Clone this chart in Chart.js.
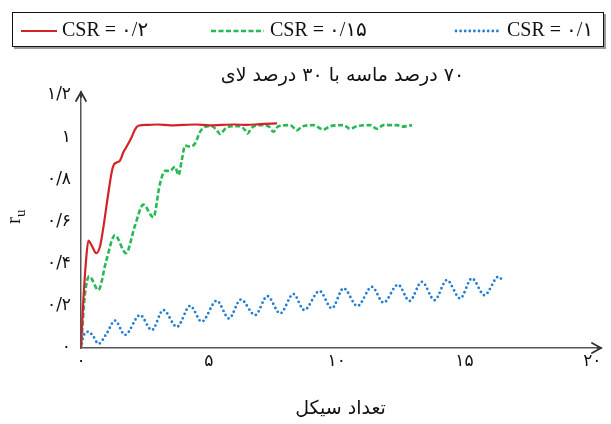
<!DOCTYPE html>
<html><head><meta charset="utf-8">
<script src="https://cdn.jsdelivr.net/npm/chart.js@4.4.0/dist/chart.umd.min.js"></script>
<style>html,body{margin:0;padding:0;background:#fff}</style>
</head><body>
<canvas id="c" width="611" height="424"></canvas>
<script>
const chartTitle = '۷۰ درصد ماسه با ۳۰ درصد لای';
const xAxisTitle = 'تعداد سیکل';
const seriesLabels = ['CSR = ۰/۲', 'CSR = ۰/۱۵', 'CSR = ۰/۱'];
const xTicks = [0, 5, 10, 15, 20];
const yTicks = [0, 0.2, 0.4, 0.6, 0.8, 1, 1.2];

const redCycles = [0, 0.08, 0.2, 0.29, 0.4, 0.6, 0.74, 0.86, 0.98, 1.1, 1.21, 1.29, 1.4, 1.53, 1.66, 1.76, 1.85, 1.98, 2.11, 2.24, 2.6, 3.0, 3.5, 4.0, 4.5, 5.0, 5.5, 6.0, 6.5, 7.0, 7.67];
const redRu =     [0, 0.2, 0.42, 0.51, 0.49, 0.45, 0.48, 0.56, 0.66, 0.76, 0.84, 0.87, 0.88, 0.89, 0.93, 0.95, 0.97, 1.0, 1.036, 1.054, 1.058, 1.06, 1.056, 1.058, 1.06, 1.056, 1.058, 1.06, 1.058, 1.062, 1.065];

const greenCycles = [0, 0.15, 0.325, 0.68, 0.98, 1.33, 1.76, 2.11, 2.44, 2.83, 3.09, 3.29, 3.48, 3.68, 3.81, 3.94, 4.07, 4.27, 4.46, 4.66, 4.85, 5.12, 5.31, 5.44, 5.64, 5.9, 6.22, 6.42, 6.51, 6.68, 7.0, 7.33, 7.53, 7.72, 8.18, 8.45, 8.64, 9.09, 9.48, 9.75, 10.27, 10.53, 10.79, 11.31, 11.57, 11.83, 12.36, 12.55, 12.95];
const greenRu =     [0, 0.25, 0.34, 0.275, 0.41, 0.535, 0.45, 0.58, 0.68, 0.62, 0.78, 0.84, 0.84, 0.86, 0.82, 0.89, 0.96, 0.955, 0.97, 1.026, 1.05, 1.052, 1.033, 1.015, 1.04, 1.052, 1.052, 1.033, 1.017, 1.045, 1.057, 1.052, 1.026, 1.052, 1.057, 1.033, 1.05, 1.057, 1.036, 1.052, 1.057, 1.04, 1.052, 1.057, 1.04, 1.057, 1.057, 1.05, 1.057];

const blueCycles = [0, 0.09, 0.29, 0.48, 0.68, 1.01, 1.33, 1.72, 2.31, 2.77, 3.22, 3.75, 4.27, 4.72, 5.31, 5.79, 6.25, 6.81, 7.29, 7.79, 8.31, 8.73, 9.33, 9.81, 10.27, 10.81, 11.38, 11.83, 12.4, 12.85, 13.33, 13.83, 14.31, 14.83, 15.29, 15.78, 16.33, 16.5];
const blueRu =     [0, 0.054, 0.077, 0.055, 0.02, 0.07, 0.13, 0.062, 0.156, 0.085, 0.18, 0.10, 0.20, 0.125, 0.224, 0.14, 0.23, 0.156, 0.246, 0.164, 0.256, 0.18, 0.27, 0.188, 0.283, 0.199, 0.29, 0.215, 0.30, 0.223, 0.314, 0.227, 0.322, 0.235, 0.33, 0.25, 0.338, 0.319];

const FA = '۰۱۲۳۴۵۶۷۸۹';
function fa(v) {
  const s = (Math.round(v * 10) / 10).toString().replace('.', '/');
  return s.replace(/[0-9]/g, d => FA[+d]);
}
const pts = (xs, ys) => xs.map((x, i) => ({x: x, y: ys[i]}));

const RED = 'rgb(210,35,40)', GREEN = 'rgb(40,185,85)', BLUE = 'rgb(35,125,210)';

const decor = {
  id: 'decor',
  afterDraw(chart) {
    const ctx = chart.ctx, ca = chart.chartArea;
    ctx.save();
    // axis arrows
    ctx.strokeStyle = '#333'; ctx.lineWidth = 1.8; ctx.lineCap = 'round'; ctx.lineJoin = 'miter';
    const y0 = chart.scales.y.getPixelForValue(0);
    const x0 = chart.scales.x.getPixelForValue(0);
    const tipX = ca.right + 1, tipY = ca.top - 3;
    ctx.beginPath(); ctx.moveTo(ca.right - 2, y0); ctx.lineTo(tipX, y0); ctx.stroke();
    ctx.beginPath(); ctx.moveTo(tipX - 9, y0 - 5); ctx.lineTo(tipX, y0); ctx.lineTo(tipX - 9, y0 + 5); ctx.stroke();
    ctx.beginPath(); ctx.moveTo(x0, ca.top + 2); ctx.lineTo(x0, tipY); ctx.stroke();
    ctx.beginPath(); ctx.moveTo(x0 - 5, tipY + 9); ctx.lineTo(x0, tipY); ctx.lineTo(x0 + 5, tipY + 9); ctx.stroke();

    // title
    ctx.fillStyle = '#111';
    ctx.font = '19px "DejaVu Sans"';
    ctx.direction = 'rtl';
    ctx.textAlign = 'center'; ctx.textBaseline = 'middle';
    ctx.fillText(chartTitle, (ca.left + ca.right) / 2 + 2, 76);
    ctx.direction = 'ltr';

    // y title r_u
    ctx.save();
    ctx.translate(20, 216);
    ctx.rotate(-Math.PI / 2);
    ctx.textAlign = 'left'; ctx.textBaseline = 'alphabetic';
    ctx.font = '21px "Liberation Serif"';
    ctx.fillText('r', -8, 0);
    const rw = ctx.measureText('r').width;
    ctx.font = '15px "Liberation Serif"';
    ctx.fillText('u', -8 + rw, 5);
    ctx.restore();

    // legend box
    ctx.fillStyle = '#9a9a9a';
    ctx.fillRect(14, 47, 592, 2);
    ctx.fillRect(604, 14, 2, 35);
    ctx.fillStyle = '#fff';
    ctx.fillRect(12, 12, 592, 35);
    ctx.strokeStyle = '#111'; ctx.lineWidth = 1; ctx.setLineDash([]);
    ctx.strokeRect(12.5, 12.5, 591, 34);
    const items = [[21, 57, 62], [211, 264, 270], [456, 501, 507]];
    const ly = 31;
    chart.data.datasets.forEach((ds, i) => {
      const [a, b, t] = items[i];
      ctx.strokeStyle = ds.borderColor; ctx.lineWidth = ds.borderWidth;
      ctx.setLineDash(ds.borderDash || []); ctx.lineCap = ds.borderCapStyle || 'butt';
      ctx.beginPath(); ctx.moveTo(a, ly); ctx.lineTo(b, ly); ctx.stroke();
      ctx.setLineDash([]);
      ctx.fillStyle = '#111'; ctx.font = '20px "Liberation Serif", "DejaVu Sans"';
      ctx.textAlign = 'left'; ctx.textBaseline = 'middle';
      ctx.fillText(ds.label, t, ly);
    });
    ctx.restore();
  }
};

new Chart(document.getElementById('c'), {
  type: 'line',
  data: {
    datasets: [
      {label: seriesLabels[0], data: pts(redCycles, redRu), borderColor: RED, borderWidth: 2.2, pointRadius: 0, cubicInterpolationMode: 'monotone', fill: false},
      {label: seriesLabels[1], data: pts(greenCycles, greenRu), borderColor: GREEN, borderWidth: 2.6, borderDash: [5, 2.5], pointRadius: 0, cubicInterpolationMode: 'monotone', fill: false},
      {label: seriesLabels[2], data: pts(blueCycles, blueRu), borderColor: BLUE, borderWidth: 2.8, borderDash: [0, 4.6], borderCapStyle: 'round', pointRadius: 0, cubicInterpolationMode: 'monotone', fill: false}
    ]
  },
  options: {
    responsive: false, animation: false, devicePixelRatio: 1,
    layout: {padding: {left: 0, right: 11, top: 95, bottom: 0}},
    plugins: {legend: {display: false}, title: {display: false}, tooltip: {enabled: false}},
    scales: {
      x: {
        type: 'linear', min: 0, max: 20.3,
        afterBuildTicks: s => { s.ticks = xTicks.map(v => ({value: v})); },
        afterFit: s => { s.height = 76; },
        grid: {display: false},
        border: {display: true, color: '#555', width: 1.5},
        ticks: {color: '#111', font: {family: 'DejaVu Sans', size: 17}, padding: -5, maxRotation: 0, callback: v => fa(v)},
        title: {display: true, text: xAxisTitle, color: '#111', font: {family: 'DejaVu Sans', size: 19}, padding: {top: 0, bottom: 4}}
      },
      y: {
        type: 'linear', min: 0, max: 1.2,
        afterBuildTicks: s => { s.ticks = yTicks.map(v => ({value: v})); },
        afterFit: s => { s.width = 81; },
        grid: {display: false},
        border: {display: true, color: '#555', width: 1.5},
        ticks: {color: '#111', font: {family: 'DejaVu Sans', size: 17}, padding: 2, callback: v => fa(v)}
      }
    }
  },
  plugins: [decor]
});
</script>
</body></html>
